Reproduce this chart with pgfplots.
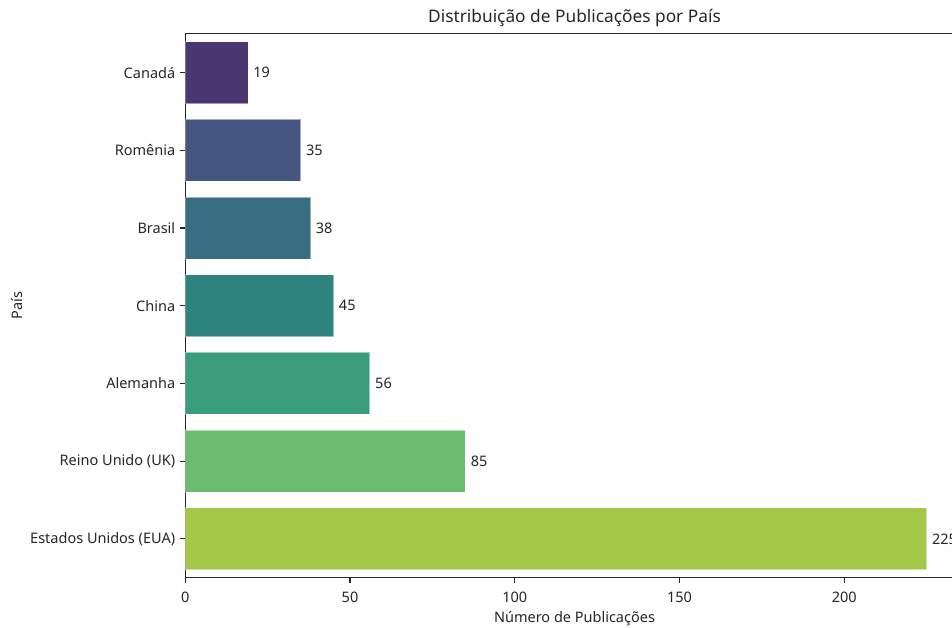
\documentclass[border=0pt]{standalone}
\usepackage{fontspec}
\setmainfont{Noto Sans}
\usepackage{pgfplots}
\pgfplotsset{compat=1.18}

% viridis, 7 steps, desaturated like seaborn
\definecolor{c1}{HTML}{4A3670}
\definecolor{c2}{HTML}{455681}
\definecolor{c3}{HTML}{386D82}
\definecolor{c4}{HTML}{2F837F}
\definecolor{c5}{HTML}{399D7B}
\definecolor{c6}{HTML}{6BBC6E}
\definecolor{c7}{HTML}{A3C746}
\definecolor{ink}{HTML}{262626}

\begin{document}
\begin{tikzpicture}
\clip (-185.3pt,-50.3pt) rectangle (766.7pt,577.7pt);
\begin{axis}[
    scale only axis,
    width=778.4pt, height=544pt,
    xbar, bar width=62pt, bar shift=0pt,
    xmin=0, xmax=236.25,
    ymin=-0.5, ymax=6.5, y dir=reverse,
    ytick={0,1,2,3,4,5,6},
    yticklabels={Canadá, Romênia, Brasil, China, Alemanha, Reino Unido (UK), Estados Unidos (EUA)},
    xtick={0,50,100,150,200},
    xtick pos=bottom, ytick pos=left,
    tick align=outside, major tick length=4.9pt,
    tick style={line width=1.1pt, color=ink},
    axis line style={line width=1.1pt, color=ink},
    /pgf/number format/assume math mode=true,
    tick label style={font=\fontsize{14.5}{17}\selectfont, text=ink, inner sep=0pt},
    yticklabel style={xshift=-5pt},
    xticklabel style={yshift=-9.5pt},
    title={Distribuição de Publicações por País},
    title style={font=\fontsize{17.3}{20}\selectfont, text=ink, inner sep=0pt, yshift=0.5pt},
    xlabel={Número de Publicações},
    xlabel style={at={(axis description cs:0.5,0)}, anchor=center, yshift=-41pt,
        font=\fontsize{14.5}{17}\selectfont, text=ink, inner sep=0pt},
    ylabel={País},
    ylabel style={at={(axis description cs:0,0.5)}, anchor=center, yshift=168.5pt,
        font=\fontsize{14.5}{17}\selectfont, text=ink, inner sep=0pt},
    nodes near coords,
    nodes near coords style={anchor=west, inner sep=0pt, xshift=5pt,
        font=\fontsize{14.5}{17}\selectfont, text=ink},
    every axis plot/.append style={draw=white, draw opacity=0.5, line width=0.8pt},
]
\addplot[fill=c1] coordinates {(19,0)};
\addplot[fill=c2] coordinates {(35,1)};
\addplot[fill=c3] coordinates {(38,2)};
\addplot[fill=c4] coordinates {(45,3)};
\addplot[fill=c5] coordinates {(56,4)};
\addplot[fill=c6] coordinates {(85,5)};
\addplot[fill=c7] coordinates {(225,6)};
\end{axis}
\end{tikzpicture}
\end{document}
